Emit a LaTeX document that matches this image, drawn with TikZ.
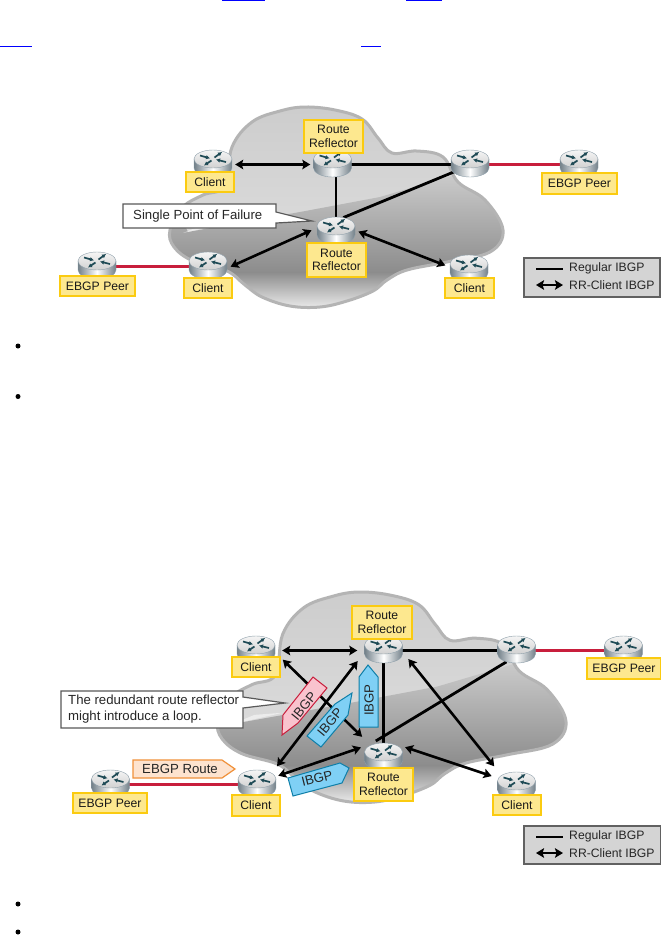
\documentclass[tikz,border=0pt]{standalone}
\usepackage{fontspec}
\setmainfont{Liberation Sans}
\usetikzlibrary{arrows.meta,shapes.geometric,calc}
\definecolor{labfill}{HTML}{FDE88F}
\definecolor{labedge}{HTML}{FBCB10}
\definecolor{redlink}{HTML}{C81E3C}
\definecolor{pinkfill}{HTML}{F9C3CE}
\definecolor{blufill}{HTML}{7FD0F5}
\definecolor{bluedge}{HTML}{0F7FA8}
\definecolor{orgfill}{HTML}{FDE3CF}
\definecolor{orgedge}{HTML}{F0913A}
\definecolor{cloudedge}{HTML}{B4B4B4}
\definecolor{teal}{HTML}{1E4A55}
\definecolor{rtredge}{HTML}{8FA0AB}
\newcommand{\cloudshape}{plot[smooth cycle,tension=0.62] coordinates {
 (232,147) (252,122) (280,111) (305,107) (335,110) (362,119) (378,138) (392,153) (417,151) (443,157) (458,182)
 (485,200) (503,230) (490,252) (447,262) (407,270) (387,280) (373,291) (347,301) (320,307) (290,306) (262,297) (245,285)
 (227,271) (193,261) (174,247) (170,230) (183,207) (203,195) (225,186)}}
\newcommand{\cloudbody}{%
 \begin{scope}
 \clip \cloudshape;
 \shade[top color=black!20,bottom color=black!14] (160,100) rectangle (510,240);
 \shade[top color=black!20,bottom color=black!45] (160,172) -- (188,232) -- (300,212) -- (380,197) -- (465,172) -- (510,172) -- (510,272) -- (160,272) -- cycle;
 \fill[white,opacity=.5] (183,233) -- (205,224) -- (232,222) -- cycle;
 \shade[top color=black!45,bottom color=black!6] (160,272) rectangle (510,310);
 \end{scope}
 \draw[cloudedge,line width=3pt] \cloudshape;}
\tikzset{
 x=1pt,y=-1pt,
 rnode/.style={ellipse,minimum width=54pt,minimum height=42pt,inner sep=0pt},
 lab/.style={draw=labedge,fill=labfill,line width=1.2pt,inner sep=0pt,align=center,text=black!90,
   font=\fontsize{12.2}{13.5}\selectfont},
 redl/.style={draw=redlink,line width=2.8pt,shorten <=-9pt,shorten >=-9pt},
 plain/.style={draw=black,line width=2.8pt,shorten <=-9pt,shorten >=-9pt},
 legline/.style={draw=black,line width=2.8pt},
 bi/.style={draw=black,line width=2.6pt,{Stealth[length=8pt,width=9.5pt,inset=1.5pt]}-{Stealth[length=8pt,width=9.5pt,inset=1.5pt]}},
 callout/.style={draw=black!65,fill=white,line width=1.2pt},
 calltext/.style={font=\fontsize{13.2}{16}\selectfont,text=black!85,inner sep=0pt,align=left,anchor=west},
 legendbox/.style={draw=black!62,fill=black!17,line width=1.3pt},
 legtext/.style={font=\fontsize{12.2}{14}\selectfont,text=black!85,inner sep=0pt,anchor=west},
 bluebadge/.style={draw=bluedge,fill=blufill,line width=1pt},
 pinkbadge/.style={draw=redlink,fill=pinkfill,line width=1pt},
 orgbadge/.style={draw=orgedge,fill=orgfill,line width=1.2pt},
 badgetext/.style={font=\fontsize{13.2}{14}\selectfont,text=black!85,inner sep=0pt},
 bullet/.style={circle,fill=black,inner sep=0pt,minimum size=5pt},
 linkrule/.style={draw=blue,line width=1pt},
 pics/routerpic/.style={code={
  \shade[left color=rtredge!80!black,right color=rtredge!80!black,middle color=white,draw=rtredge,line width=.4pt]
    (-19,-5.5) -- (-19,3.5) .. controls (-19,8.5) and (-10.5,12.5) .. (0,12.5) .. controls (10.5,12.5) and (19,8.5) .. (19,3.5) -- (19,-5.5) -- cycle;
  \shade[top color=black!4,bottom color=black!18,draw=rtredge,line width=.4pt] (0,-5.5) ellipse[x radius=19,y radius=9];
  \draw[teal,line width=1.7pt,-{Latex[length=4pt,width=4.5pt]}] (-13,-9) -- (-3,-6.2);
  \draw[teal,line width=1.7pt,-{Latex[length=4pt,width=4.5pt]}] (13,-2.5) -- (3,-5);
  \draw[teal,line width=1.7pt,-{Latex[length=4pt,width=4.5pt]}] (1.5,-7) -- (9,-12.5);
  \draw[teal,line width=1.7pt,-{Latex[length=4pt,width=4.5pt]}] (-1.5,-4) -- (-9,1);
 }},
}
\begin{document}
\begin{tikzpicture}
\useasboundingbox (0,0) rectangle (661,935);
\fill[white] (0,0) rectangle (661,935);
% link underlines left from the page text
\draw[linkrule] (222,.5) -- (265,.5);
\draw[linkrule] (406,.5) -- (442,.5);
\draw[linkrule] (0,46.5) -- (32,46.5);
\draw[linkrule] (361,46.5) -- (381,46.5);
% bullets
\node[bullet] (b1) at (18,346) {};
\node[bullet] (b2) at (18,396.5) {};
\node[bullet] (b3) at (18,904) {};
\node[bullet] (b4) at (18,932) {};

%%%%%%%%%%%%%%%% first diagram
\cloudbody
\node[rnode] (ac) at (213,164.5) {};
\node[rnode] (ar) at (332.5,164.5) {};
\node[rnode] (ab) at (470,164.5) {};
\node[rnode] (ap) at (579,164.5) {};
\node[rnode] (as) at (336,231.5) {};
\node[rnode] (ad) at (208,266.5) {};
\node[rnode] (aq) at (97,266.5) {};
\node[rnode] (ae) at (469,269.5) {};
\draw[redl] (aq) -- (ad);
\draw[redl] (ab) -- (ap);
\draw[plain] (ar) -- (ab);
\draw[plain] (as.north |- ar.south) -- (as.north);
\draw[plain] (ab.204) -- (as.48);
\draw[bi,shorten <=-5pt,shorten >=-5pt] (ac) -- (ar);
\draw[bi,shorten <=-3pt,shorten >=-5pt] (as.180) -- (ad.4);
\draw[bi,shorten <=-5pt,shorten >=-3pt] (as.-4) -- (ae.169);
\foreach \n in {ac,ar,ab,ap,as,ad,aq,ae} \pic at (\n) {routerpic};
\node[lab,minimum width=59pt,minimum height=33pt] (lar) at (333.5,136.5) {Route\\Reflector};
\node[lab,minimum width=48pt,minimum height=20pt] (lac) at (210,182) {Client};
\node[lab,minimum width=59pt,minimum height=34pt] (las) at (336.5,260) {Route\\Reflector};
\node[lab,minimum width=48pt,minimum height=20pt] (lad) at (208,288) {Client};
\node[lab,minimum width=75pt,minimum height=20pt] (laq) at (97.5,286) {EBGP Peer};
\node[lab,minimum width=75pt,minimum height=21pt] (lap) at (579.5,183.5) {EBGP Peer};
\node[lab,minimum width=49pt,minimum height=20pt] (lae) at (469.5,288) {Client};
\draw[callout] (123,204) -- (276,204) -- (276,212) -- (312,221) -- (276,223) -- (276,228) -- (123,228) -- cycle;
\node[calltext] (tsp) at (133,216) {Single Point of Failure};
\draw[legendbox] (524,258) rectangle (660,297);
\coordinate (la1) at (536,269);
\coordinate (la2) at (563,269);
\coordinate (la3) at (536,285);
\coordinate (la4) at (563,285);
\draw[legline] (la1) -- (la2);
\draw[bi] (la3) -- (la4);
\node[legtext] (lat1) at (569,268.5) {Regular IBGP};
\node[legtext] (lat2) at (569,285) {RR-Client IBGP};

%%%%%%%%%%%%%%%% second diagram
\begin{scope}[shift={(40.35,479.65)},xscale=1.045,yscale=1.05]
\cloudbody
\end{scope}
\node[rnode] (bc) at (256,650.5) {};
\node[rnode] (br) at (383.5,650.5) {};
\node[rnode] (bb) at (516.5,650.5) {};
\node[rnode] (bp) at (623.5,650.5) {};
\node[rnode] (bs) at (383.5,757.5) {};
\node[rnode] (bd) at (257,784.5) {};
\node[rnode] (bq) at (110.5,784.5) {};
\node[rnode] (be) at (516.5,786.5) {};
\draw[redl] (bq) -- (bd);
\draw[redl] (bb) -- (bp);
\draw[plain] (br) -- (bb);
\draw[plain] (br) -- (bs);
\draw[plain] (bb.222) -- (bs.90);
\draw[bi,shorten <=-1pt,shorten >=-1pt] (bc) -- (br);
\draw[bi,shorten <=2pt,shorten >=6pt] (bc.-17.5) -- (bs.136);
\draw[bi,shorten <=3pt,shorten >=2pt] (bd.41) -- (br.-160);
\draw[bi,shorten <=-3pt,shorten >=-2pt] (bd.22) -- (bs.159);
\draw[bi,shorten <=-3pt,shorten >=1pt] (bs.21.6) -- (be.157);
\draw[bi,shorten >=6pt] (br.-19) -- (be.140);
\foreach \n in {bc,br,bb,bp,bs,bd,bq,be} \pic at (\n) {routerpic};
\draw[pinkbadge] (313,677) -- (327,688) -- (298,723) -- (282,735) -- (283,715) -- cycle;
\node[badgetext,rotate=51] (tb1) at (304,706) {IBGP};
\draw[bluebadge] (352,693) -- (348,715) -- (321,747) -- (307,736) -- (335,704) -- cycle;
\node[badgetext,rotate=50] (tb2) at (330,722) {IBGP};
\draw[bluebadge] (368,665) -- (378,677) -- (378,727) -- (359,727) -- (359,677) -- cycle;
\node[badgetext,rotate=90] (tb3) at (369,700) {IBGP};
\draw[bluebadge] (349,768) -- (342,783) -- (293,796) -- (288,778) -- (340,763) -- cycle;
\node[badgetext,rotate=14] (tb4) at (317,778.5) {IBGP};
\draw[orgbadge] (133,760) -- (222,760) -- (235,769) -- (222,778) -- (133,778) -- cycle;
\node[badgetext] (tb5) at (180,769) {EBGP Route};
\node[lab,minimum width=60pt,minimum height=33pt] (lbr) at (382,622.5) {Route\\Reflector};
\node[lab,minimum width=48pt,minimum height=20pt] (lbc) at (256,667) {Client};
\node[lab,minimum width=74pt,minimum height=21pt] (lbp) at (624,668.5) {EBGP Peer};
\node[lab,minimum width=59pt,minimum height=33pt] (lbs) at (383.5,784.5) {Route\\Reflector};
\node[lab,minimum width=48pt,minimum height=21pt] (lbd) at (256,805.5) {Client};
\node[lab,minimum width=74pt,minimum height=20pt] (lbq) at (110,803) {EBGP Peer};
\node[lab,minimum width=48pt,minimum height=20pt] (lbe) at (517,805) {Client};
\draw[callout] (61,691) -- (243,691) -- (243,697) -- (285,703) -- (243,708) -- (243,728) -- (61,728) -- cycle;
\node[calltext] (tlp) at (68,709) {The redundant route reflector\\might introduce a loop.};
\draw[legendbox] (524,826) rectangle (660.5,864);
\coordinate (lb1) at (536,837);
\coordinate (lb2) at (563,837);
\coordinate (lb3) at (536,853);
\coordinate (lb4) at (563,853);
\draw[legline] (lb1) -- (lb2);
\draw[bi] (lb3) -- (lb4);
\node[legtext] (lbt1) at (569,836.5) {Regular IBGP};
\node[legtext] (lbt2) at (569,853) {RR-Client IBGP};
\end{tikzpicture}
\end{document}
